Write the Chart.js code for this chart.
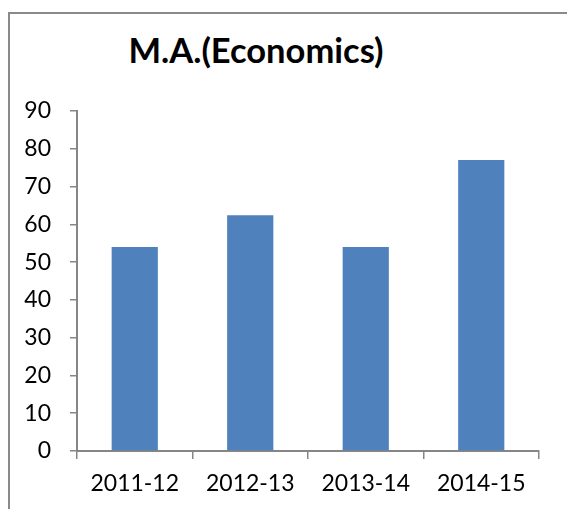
<!DOCTYPE html>
<html>
<head>
<meta charset="utf-8">
<script src="https://cdn.jsdelivr.net/npm/chart.js@4.4.0/dist/chart.umd.min.js"></script>
<style>
  html, body { margin: 0; padding: 0; background: #fff; }
  #wrap { position: relative; width: 567px; height: 509px; overflow: hidden; }
  #frame { position: absolute; left: 8px; top: 12px; width: 600px; height: 600px;
           border-left: 2px solid #8a8a8a; border-top: 2px solid #8a8a8a; box-sizing: border-box; }
  #title { position: absolute; left: 56px; width: 400px; top: 30px; text-align: center;
           font-family: Lato, sans-serif; font-weight: bold; font-size: 34.5px; line-height: 40px; color: #000; }
  canvas { position: absolute; left: 0; top: 0; }
</style>
</head>
<body>
<div id="wrap">
  <div id="frame"></div>
  <div id="title">M.A.(Economics)</div>
  <canvas id="c" width="567" height="509"></canvas>
</div>
<script>
const categories = ["2011-12", "2012-13", "2013-14", "2014-15"];
const values = [54, 62.4, 54, 77];
const yTicks = [0, 10, 20, 30, 40, 50, 60, 70, 80, 90];

const axisGray = '#868686';
const tickFont = { family: 'Lato, sans-serif', size: 23 };

new Chart(document.getElementById('c'), {
  type: 'bar',
  data: {
    labels: categories,
    datasets: [{
      data: values,
      backgroundColor: '#4F81BD',
      borderWidth: 0,
      barPercentage: 0.4,
      categoryPercentage: 1.0
    }]
  },
  options: {
    responsive: false,
    animation: false,
    layout: { padding: { left: 0, right: 28, top: 111, bottom: 0 } },
    plugins: { legend: { display: false }, title: { display: false }, tooltip: { enabled: false } },
    scales: {
      x: {
        grid: { display: true, drawOnChartArea: false, drawTicks: true, tickLength: 8, color: axisGray, lineWidth: 1.5, offset: true },
        border: { display: true, color: axisGray, width: 2 },
        ticks: { color: '#000', font: tickFont, padding: 11, maxRotation: 0 },
        afterFit: (s) => { s.height = 58; }
      },
      y: {
        min: 0, max: 90,
        afterBuildTicks: (s) => { s.ticks = yTicks.map(v => ({ value: v })); },
        grid: { display: true, drawOnChartArea: false, drawTicks: true, tickLength: 7, color: axisGray, lineWidth: 1.5 },
        border: { display: true, color: axisGray, width: 2 },
        ticks: { color: '#000', font: tickFont, padding: 19 },
        afterFit: (s) => { s.width = 77; }
      }
    }
  }
});
</script>
</body>
</html>
